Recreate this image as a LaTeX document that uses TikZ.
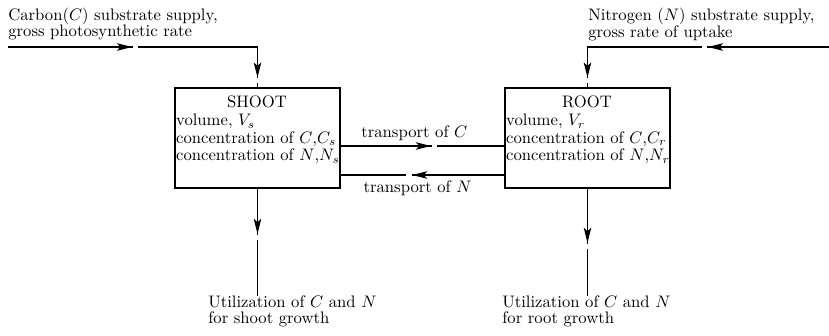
\documentclass[tikz,border=0pt]{standalone}
\usepackage{amsmath}
\usetikzlibrary{arrows.meta,positioning,decorations.markings}

% arrow tip half way along a line, with a small break after it
\newcommand{\tipgap}{\arrow{Stealth[length=9pt,width=4.5pt,inset=2pt]}\fill[white] (0.4pt,-1pt) rectangle (3.6pt,1pt);}

\begin{document}
\begin{tikzpicture}[
    x=0.6pt, y=-0.6pt,
    box/.style={
        rectangle,
        draw,
        line width=1pt,
        minimum width=99pt,
        minimum height=60pt
    },
    vars/.style={
        anchor=north west,
        inner xsep=1pt,
        inner ysep=5.2pt,
        text width=97pt,
        align=left,
        font=\fontsize{10}{10.6}\selectfont
    },
    note/.style={
        anchor=north west,
        inner sep=0pt,
        align=left,
        font=\fontsize{10}{9.5}\selectfont
    },
    link/.style={
        line width=0.8pt
    },
    gaptip/.style={
        postaction={decorate, decoration={markings, mark=at position #1 with {\tipgap}}}
    }
]
\useasboundingbox (0,0) rectangle (829,336);

% Boxes
\node[box] (shoot) at (257.5,138) {};
\node[box, right=98pt of shoot] (root) {};

% Box contents
\node[vars] (shootvars) at (shoot.north west) {\makebox[\hsize]{SHOOT}\\ \mbox{volume, $V_s$}\\ \mbox{concentration of $C$,$C_s$}\\ \mbox{concentration of $N$,$N_s$}};
\node[vars] (rootvars) at (root.north west) {\makebox[\hsize]{ROOT}\\ \mbox{volume, $V_r$}\\ \mbox{concentration of $C$,$C_r$}\\ \mbox{concentration of $N$,$N_r$}};

% Supplies
\node[note] (carbon) at (8,7.5) {Carbon($C$) substrate supply,\\ gross photosynthetic rate};
\node[note] (nitrogen) at (588,7.5) {Nitrogen ($N$) substrate supply,\\ gross rate of uptake};
\coordinate (csrc) at (8,47);
\coordinate (nsrc) at (829,47);

% Utilization
\node[note] (shootuse) at (208,295.5) {Utilization of $C$ and $N$\\ for shoot growth};
\node[note] (rootuse) at (502,295.5) {Utilization of $C$ and $N$\\ for root growth};

% Arrows
\draw[link, gaptip=74.4pt, gaptip=168pt] (csrc) -- (csrc -| shoot) -- (shoot.north);
\draw[link, gaptip=72.6pt, gaptip=163.2pt] (nsrc) -- (nsrc -| root) -- (root.north);
\draw[link, gaptip=54pt] ([yshift=-4.8pt]shoot.east) -- node[above, inner sep=2.8pt, pos=0.45] (tc) {transport of $C$} ([yshift=-4.8pt]root.west);
\draw[link, gaptip=55.2pt] ([yshift=-22.2pt]root.west) -- node[below, pos=0.53] (tn) {transport of $N$} ([yshift=-22.2pt]shoot.east);
\draw[link, gaptip=27pt] (shoot.south) -- (shoot.south |- shootuse.north);
\draw[link, gaptip=32.4pt] (root.south) -- (root.south |- rootuse.north);

\end{tikzpicture}
\end{document}
